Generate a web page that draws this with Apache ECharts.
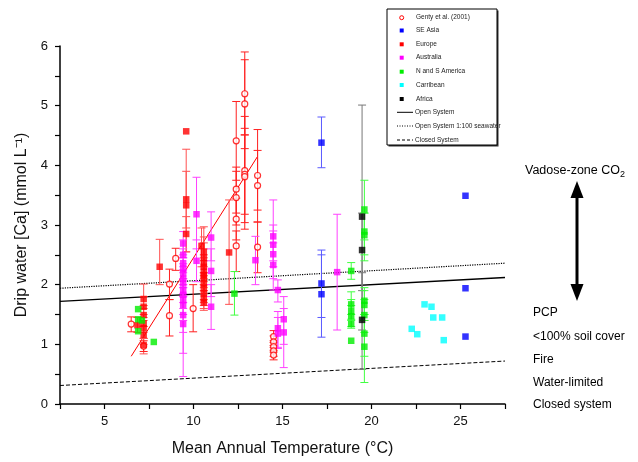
<!DOCTYPE html>
<html><head><meta charset="utf-8">
<script src="https://cdn.jsdelivr.net/npm/echarts@6/dist/echarts.min.js"></script>
<style>html,body{margin:0;padding:0;background:#fff}#c{width:638px;height:462px}</style>
</head><body><div id="c"></div>
<script>
// [x, y, low, high]  (low/high null = no error bar)
const genty = [
 [6.5,1.34,1.21,1.46],[7.2,0.97,0.88,1.06],[8.65,2.01,1.75,2.26],[8.65,1.48,1.14,1.75],
 [9.0,2.44,2.24,2.61],[9.98,1.60,1.21,2.0],
 [12.4,4.41,3.75,5.07],[12.4,3.60,3.2,3.97],[12.4,3.46,3.0,3.9],[12.4,3.10,2.75,3.45],[12.4,2.65,2.22,2.9],
 [12.88,5.20,4.51,5.90],[12.88,5.03,4.28,5.77],[12.88,3.91,3.18,4.62],[12.88,3.85,3.04,4.82],[12.88,3.81,2.93,4.51],
 [13.6,3.83,3.05,4.60],[13.6,3.66,3.25,4.25],[13.6,2.63,2.2,3.05],
 [14.5,1.13,1.03,1.23],[14.5,1.04,0.95,1.14],[14.5,0.96,0.87,1.06],[14.5,0.89,0.8,0.98],[14.5,0.82,0.74,0.9]
];
const seAsia = [
 [17.19,4.38,3.96,4.81],[17.19,2.02,1.45,2.58],[17.19,1.84,1.12,2.5],
 [25.28,3.49,null,null],[25.28,1.94,null,null],[25.28,1.13,null,null]
];
const europe = [
 [6.85,1.32,1.2,1.45],
 [7.2,1.76,1.6,2.01],[7.2,1.63,1.45,1.8],[7.2,1.49,1.3,1.65],[7.2,1.35,1.2,1.5],[7.2,1.27,1.1,1.4],[7.2,1.16,1.0,1.3],[7.2,0.99,0.84,1.1],
 [8.1,2.30,2.0,2.76],
 [9.59,4.57,null,null],[9.59,3.43,2.95,4.27],[9.59,3.33,2.55,3.9],[9.59,2.85,2.55,3.14],
 [10.45,2.65,2.3,2.95],
 [10.58,2.55,2.2,2.97],[10.58,2.45,2.15,2.8],[10.58,2.36,2.05,2.7],[10.58,2.30,2.0,2.6],[10.58,2.22,1.95,2.5],
 [10.58,2.16,1.9,2.45],[10.58,2.11,1.85,2.4],[10.58,2.02,1.75,2.3],[10.58,1.94,1.7,2.2],[10.58,1.85,1.65,2.1],
 [10.58,1.77,1.6,2.0],[10.58,1.70,1.57,1.9],
 [12.0,2.54,1.67,3.42]
];
const australia = [
 [9.42,2.69,2.45,2.89],[9.42,2.50,2.3,2.75],[9.42,2.36,2.1,2.6],[9.42,2.27,2.0,2.5],[9.42,2.19,1.95,2.45],
 [9.42,2.10,1.85,2.35],[9.42,2.02,1.8,2.25],[9.42,1.91,1.6,2.2],[9.42,1.83,1.5,2.1],[9.42,1.74,1.4,2.0],
 [9.42,1.66,1.2,1.95],[9.42,1.49,0.85,1.8],[9.42,1.34,0.46,1.7],
 [10.17,3.18,2.6,3.80],[10.17,2.40,2.05,2.75],
 [10.99,2.79,2.4,3.22],[10.99,2.23,1.8,2.6],[10.99,1.63,1.25,2.0],
 [13.48,2.41,2.0,2.81],
 [14.48,2.81,2.4,3.42],[14.48,2.67,2.3,3.0],[14.48,2.51,2.1,2.9],[14.48,2.33,1.91,2.7],
 [14.74,1.91,1.71,2.08],[14.74,1.27,0.93,1.55],[14.74,1.18,0.95,1.45],
 [15.07,1.42,1.0,1.80],[15.07,1.20,0.61,1.6],
 [18.07,2.21,1.24,3.18]
];
const americas = [
 [6.89,1.59,null,null],[6.89,1.42,null,null],[7.1,1.40,null,null],[6.89,1.22,null,null],[7.77,1.04,null,null],
 [12.3,1.85,1.49,2.22],
 [18.86,2.23,2.09,2.37],[18.86,1.67,1.5,1.88],[18.86,1.56,1.4,1.75],[18.86,1.47,1.3,1.65],[18.86,1.34,1.27,1.42],[18.86,1.06,null,null],
 [19.6,3.26,2.75,3.75],[19.6,2.89,2.5,3.2],[19.6,2.83,2.4,3.2],[19.6,1.73,1.5,1.95],[19.6,1.66,1.4,1.9],
 [19.6,1.49,1.2,1.75],[19.6,1.18,0.8,1.5],[19.6,0.96,0.36,1.4]
];
const caribbean = [
 [22.98,1.67,null,null],[23.37,1.63,null,null],[23.47,1.45,null,null],[23.97,1.45,null,null],
 [22.26,1.26,null,null],[22.57,1.17,null,null],[24.06,1.07,null,null]
];
const africa = [
 [19.47,3.14,1.24,5.01],[19.47,2.58,1.9,3.2],[19.47,1.41,0.58,2.2]
];
const openSystem = [[2.5,1.72],[27.5,2.12]];
const openSeawater = [[2.5,1.94],[27.5,2.36]];
const closedSystem = [[2.5,0.31],[27.5,0.72]];
const gentyFit = [[6.5,0.80],[13.58,4.14]];

const xTicks = {min:2.5, max:27.5, step:2.5, labelStep:5};
const yTicks = {min:0, max:6, step:0.5, labelStep:1};

const legendNames = ['Genty et al. (2001)','SE Asia','Europe','Australia','N and S America','Carribean','Africa'];
const legendLines = ['Open System','Open System 1:100 seawater','Closed System'];
const rightNotes = ['PCP','<100% soil cover','Fire','Water-limited','Closed system'];

const FONT = '"Liberation Sans", Arial, sans-serif';

function errSeries(data, color){
  return {
    type:'custom', silent:true, z:2,
    data: data.filter(d => d[2] !== null),
    renderItem: function(params, api){
      const x = api.value(0), lo = api.value(2), hi = api.value(3);
      const a = api.coord([x, hi]), b = api.coord([x, lo]);
      const w = 4;
      const st = {stroke:color, lineWidth:1};
      return {type:'group', children:[
        {type:'line', shape:{x1:a[0],y1:a[1],x2:b[0],y2:b[1]}, style:st},
        {type:'line', shape:{x1:a[0]-w,y1:a[1],x2:a[0]+w,y2:a[1]}, style:st},
        {type:'line', shape:{x1:b[0]-w,y1:b[1],x2:b[0]+w,y2:b[1]}, style:st}
      ]};
    }
  };
}
function pts(data, name, color, symbol, hollow){
  return {
    type:'scatter', name:name, z:3,
    data: data.map(d => [d[0], d[1]]),
    symbol: symbol, symbolSize: hollow ? 6 : 6.5,
    itemStyle: hollow ? {color:'#fff', borderColor:color, borderWidth:1.2} : {color:color}
  };
}
function lineS(data, name, type, width, color){
  return {type:'line', name:name, data:data, symbol:'none', z:1, silent:true,
    lineStyle:{color:color, type:type, width:width}};
}

const colors = {genty:'#ff0000', se:'#0000ff', eu:'#ff0000', au:'#ff00ff', am:'#00ee00', ca:'#00ffff', af:'#000000'};
const legendColors = [colors.genty, colors.se, colors.eu, colors.au, colors.am, colors.ca, colors.af];

// legend graphics
const lg = [];
const LX = 387, LY = 9, LW = 110, LH = 136;
lg.push({type:'rect', shape:{x:LX+1.5,y:LY+1.5,width:LW,height:LH}, style:{fill:'#333'}, z:10});
lg.push({type:'rect', shape:{x:LX,y:LY,width:LW,height:LH}, style:{fill:'#fff', stroke:'#000', lineWidth:1}, z:11});
const rowY = [17.7,30.5,44.3,57.7,71.7,85,99,112.3,126,140];
legendNames.forEach((n,i) => {
  const y = rowY[i];
  if (i === 0) lg.push({type:'circle', shape:{cx:401.7, cy:y, r:2}, style:{fill:'#fff', stroke:legendColors[i], lineWidth:1}, z:12});
  else lg.push({type:'rect', shape:{x:399.7, y:y-2, width:4, height:4}, style:{fill:legendColors[i]}, z:12});
  lg.push({type:'text', x:416, y:y, style:{text:n, font:'6.5px '+FONT, fill:'#222', verticalAlign:'middle'}, z:12});
});
const dashes = [null, [1,1.5], [3,2]];
legendLines.forEach((n,i) => {
  const y = rowY[7+i];
  lg.push({type:'line', shape:{x1:397, y1:y, x2:413, y2:y}, style:{stroke:'#000', lineWidth:1, lineDash:dashes[i]}, z:12});
  lg.push({type:'text', x:415, y:y, style:{text:n, font:'6.5px '+FONT, fill:'#222', verticalAlign:'middle'}, z:12});
});
// right annotations
lg.push({type:'text', x:525, y:171, style:{text:'Vadose-zone CO{s|2}', font:'12.5px '+FONT, fill:'#000', verticalAlign:'middle',
  rich:{s:{fontSize:9, verticalAlign:'bottom', padding:[8,0,0,0], fontFamily:FONT}}}, z:12});
lg.push({type:'polygon', shape:{points:[[577,181],[570.5,198],[583.5,198]]}, style:{fill:'#000'}, z:12});
lg.push({type:'rect', shape:{x:575.5, y:197, width:3, height:88}, style:{fill:'#000'}, z:12});
lg.push({type:'polygon', shape:{points:[[577,301],[570.5,284],[583.5,284]]}, style:{fill:'#000'}, z:12});
const noteY = [313,337,360,383,405];
rightNotes.forEach((n,i) => {
  lg.push({type:'text', x:533, y:noteY[i], style:{text:n, font:'12px '+FONT, fill:'#000', verticalAlign:'middle'}, z:12});
});

const chart = echarts.init(document.getElementById('c'), null, {renderer:'canvas'});
chart.setOption({
  animation:false,
  backgroundColor:'#fff',
  grid:{left:60, right:133, top:46, bottom:58, containLabel:false},
  xAxis:{type:'value', min:xTicks.min, max:xTicks.max, interval:xTicks.step,
    name:'Mean Annual Temperature (°C)', nameLocation:'middle', nameGap:37,
    nameTextStyle:{fontFamily:FONT, fontSize:16, color:'#111'},
    axisLine:{lineStyle:{color:'#000', width:1.5}}, axisTick:{length:5, lineStyle:{color:'#000', width:1.2}},
    axisLabel:{margin:11, fontFamily:FONT, fontSize:13, color:'#111',
      formatter: v => (Math.abs(v % xTicks.labelStep) < 1e-6) ? String(v) : ''},
    splitLine:{show:false}},
  yAxis:{type:'value', min:yTicks.min, max:yTicks.max, interval:yTicks.step,
    name:'Drip water [Ca] (mmol L⁻¹)', nameLocation:'middle', nameGap:29,
    nameTextStyle:{fontFamily:FONT, fontSize:16, color:'#111'},
    axisLine:{show:true, lineStyle:{color:'#000', width:1.5}}, axisTick:{show:true, length:5, lineStyle:{color:'#000', width:1.2}},
    axisLabel:{margin:12, fontFamily:FONT, fontSize:13, color:'#111',
      formatter: v => (Math.abs(v % yTicks.labelStep) < 1e-6) ? String(v) : ''},
    splitLine:{show:false}},
  series:[
    lineS(openSystem,'Open System','solid',1.3,'#000'),
    lineS(openSeawater,'Open System 1:100 seawater','dotted',1.2,'#000'),
    lineS(closedSystem,'Closed System','dashed',1,'#000'),
    lineS(gentyFit,'Genty fit','solid',1,'#ff0000'),
    errSeries(africa,'#777'),
    errSeries(europe,'#ff5050'),
    errSeries(genty,'#ff2020'),
    errSeries(australia,'#ff40ff'),
    errSeries(americas,'#40ff40'),
    errSeries(seAsia,'#5a5aff'),
    pts(genty, legendNames[0], colors.genty, 'circle', true),
    pts(seAsia, legendNames[1], colors.se, 'rect', false),
    pts(europe, legendNames[2], colors.eu, 'rect', false),
    pts(australia, legendNames[3], colors.au, 'rect', false),
    pts(americas, legendNames[4], colors.am, 'rect', false),
    pts(caribbean, legendNames[5], colors.ca, 'rect', false),
    pts(africa, legendNames[6], colors.af, 'rect', false)
  ],
  graphic: lg
});
</script></body></html>
